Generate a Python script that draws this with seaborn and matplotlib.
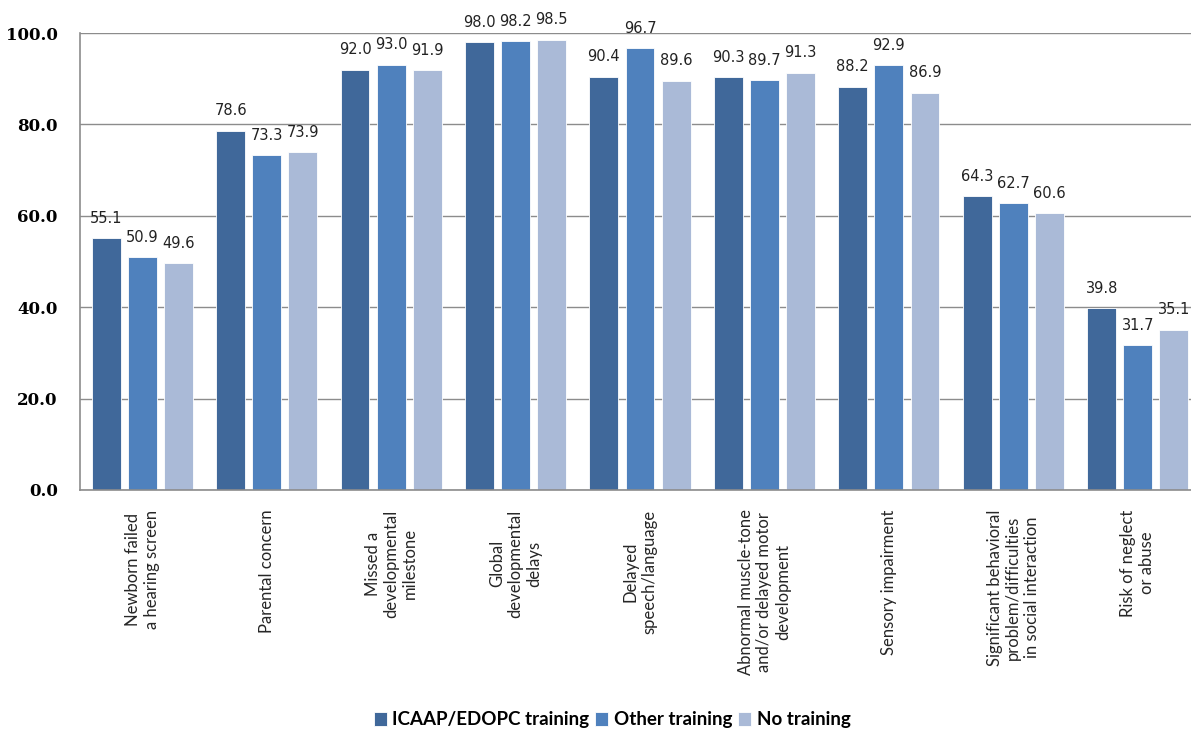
import matplotlib
matplotlib.use('Agg')
import matplotlib.pyplot as plt
import numpy as np
import pandas as pd
import seaborn as sns

categories = ["Newborn failed\na hearing screen",
              "Parental concern",
              "Missed a\ndevelopmental\nmilestone",
              "Global\ndevelopmental\ndelays",
              "Delayed\nspeech/language",
              "Abnormal muscle-tone\nand/or delayed motor\ndevelopment",
              "Sensory impairment",
              "Significant behavioral\nproblem/difficulties\nin social interaction",
              "Risk of neglect\nor abuse"]
groups = ["ICAAP/EDOPC training", "Other training", "No training"]
icaap = [55.1, 78.6, 92.0, 98.0, 90.4, 90.3, 88.2, 64.3, 39.8]
other = [50.9, 73.3, 93.0, 98.2, 96.7, 89.7, 92.9, 62.7, 31.7]
none_ = [49.6, 73.9, 91.9, 98.5, 89.6, 91.3, 86.9, 60.6, 35.1]
colors = ["#40689A", "#4F81BD", "#AABAD7"]

df = pd.DataFrame({
    'category': categories * 3,
    'group': [groups[0]] * 9 + [groups[1]] * 9 + [groups[2]] * 9,
    'value': icaap + other + none_,
})

sns.set_style('white')
plt.rcParams['font.family'] = ['Lato', 'DejaVu Sans']

fig = plt.figure(figsize=(11.91, 7.33), dpi=100)
W, H = 1191, 733
ax = fig.add_axes([80 / W, 1 - 490 / H, 1120 / W, (490 - 33) / H])

sns.barplot(data=df, x='category', y='value', hue='group', order=categories,
            hue_order=groups, palette=colors, width=0.87, gap=0.2,
            saturation=1, ax=ax, legend=True, edgecolor='white', linewidth=0.6)

for cont in ax.containers:
    ax.bar_label(cont, fmt='%.1f', padding=9, fontsize=10.5, color='#222222',
                 family='DejaVu Sans')

ax.set_ylim(0, 100)
ax.set_xlim(-0.5, 8.5)
ax.set_yticks(np.arange(0, 101, 20))
ax.set_yticklabels([f"{v:.1f}" for v in np.arange(0, 101, 20)])
ax.yaxis.grid(True, color='#8c8c8c', linewidth=1.0)
ax.set_axisbelow(True)
ax.tick_params(axis='y', length=0, pad=16)
ax.tick_params(axis='x', length=0, pad=14)
ax.set_xticks(range(len(categories)))
ax.set_xticklabels(categories, rotation=90, fontsize=12, va='top',
                   ha='center', multialignment='center')
for lab in ax.get_yticklabels():
    lab.set_fontfamily('DejaVu Serif')
    lab.set_fontweight('bold')
    lab.set_fontsize(12)
    lab.set_color('black')
ax.set_xlabel('')
ax.set_ylabel('')
for side in ['top', 'right']:
    ax.spines[side].set_visible(False)
for side in ['left', 'bottom']:
    ax.spines[side].set_color('#8c8c8c')
    ax.spines[side].set_linewidth(1.2)

leg = ax.legend(loc='center', bbox_to_anchor=(532 / 1120, (490 - 720) / 457),
                ncol=3, frameon=False, handlelength=0.7,
                handleheight=0.7, handletextpad=0.3, columnspacing=0.3,
                prop={'weight': 'bold', 'size': 13.5, 'family': 'Lato'})
for t in leg.get_texts():
    t.set_color('black')

fig.savefig('out.png', dpi=100)
